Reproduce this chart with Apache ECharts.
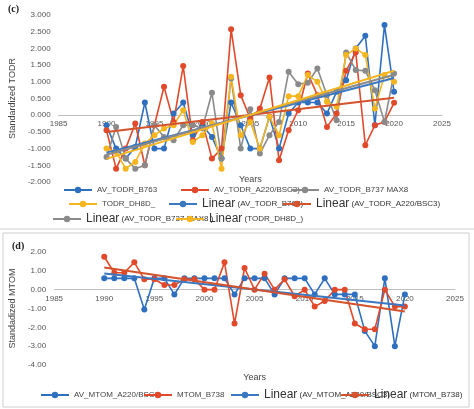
<!DOCTYPE html><html><head><meta charset="utf-8"><script src="https://cdn.jsdelivr.net/npm/echarts@6/dist/echarts.min.js"></script>
<style>html,body{margin:0;padding:0;background:#fff}#c{width:474px;height:409px}</style></head><body><div id="c"></div><script>
const years=[];for(let y=1990;y<=2020;y++)years.push(y);
const todrB763=[-0.3,-1.0,-1.3,-0.95,0.38,-1.0,-1.0,0.05,0.38,-0.6,-0.3,-0.65,-1.3,0.38,-0.3,-1.0,-1.0,-0.05,-1.0,0.05,0.38,0.38,0.38,0.05,0.7,1.05,2.0,2.38,-0.3,2.7,0.7];
const todrA220=[-0.45,-1.6,-1.0,-0.25,-1.5,-0.3,0.85,-0.2,1.47,-0.75,-0.2,-1.3,-1.0,2.57,0.6,-0.1,0.2,1.13,-1.35,-0.45,0.15,1.25,0.6,-0.35,0.05,1.33,1.88,-0.9,-0.3,-0.2,0.37];
const todrB737=[-1.25,-0.35,-1.3,-1.6,-1.5,-0.3,-0.65,-0.75,-0.3,-0.3,-0.4,0.67,-1.3,1.1,-1.0,0.18,-1.15,-0.6,-0.2,1.3,0.93,0.97,1.4,0.6,-0.15,1.88,1.35,1.33,0.75,-0.2,1.25];
const todrDH8D=[-1.0,-1.1,-1.6,-1.4,-0.85,-0.6,-0.4,-0.3,0.15,-0.8,-0.6,-0.25,-1.6,1.15,-0.6,-0.2,-1.0,-0.05,-0.6,0.57,0.57,1.2,1.0,0.4,0.25,1.8,2.0,1.8,0.2,1.2,1.0];
const mtomA220=[0.6,0.6,0.6,0.6,-1.05,0.6,0.6,-0.25,0.6,0.6,0.6,0.6,0.6,-0.25,0.6,0.6,0.6,-0.25,0.6,0.6,0.6,-0.25,0.6,-0.25,-0.25,-0.25,-2.2,-3.0,0.6,-3.0,-0.25];
const mtomB738=[1.75,0.9,0.9,1.45,0.55,0.55,0.25,0.25,0.55,0.55,0,0,1.45,-1.8,1.15,0,0.85,0,0.55,-0.35,0,-0.9,-0.6,0,0,-1.8,-2.1,-2.1,0,-0.9,-0.9];
const C={blue:'#2e6fc0',red:'#e2492a',gray:'#8a8a8a',yel:'#f5b51f',lblue:'#3b78c2',lred:'#d4522c'};
function trend(v){const n=v.length;let sx=0,sy=0,sxy=0,sxx=0;years.forEach((x,i)=>{sx+=x;sy+=v[i];sxy+=x*v[i];sxx+=x*x});const b=(n*sxy-sx*sy)/(n*sxx-sx*sx),a=(sy-b*sx)/n;return [[1990,a+b*1990],[2020,a+b*2020]];}
const pts=v=>years.map((y,i)=>[y,v[i]]);
function dser(name,v,col,gi){return {name,type:'line',data:pts(v),xAxisIndex:gi,yAxisIndex:gi,symbol:'circle',symbolSize:6,itemStyle:{color:col},lineStyle:{color:col,width:1.6},z:3};}
function tser(name,v,col,gi){return {name,type:'line',data:trend(v),xAxisIndex:gi,yAxisIndex:gi,symbol:'none',lineStyle:{color:col,width:2},itemStyle:{color:col},z:4};}
const rich={a:{fontSize:12,color:'#333',fontFamily:'Liberation Sans'},b:{fontSize:8,color:'#333'}};
const lfmt=n=>n.startsWith('Linear')?'{a|Linear} {b|'+n.slice(7)+'}':n;
function leg(name,top,left){return {data:[name],top,left,itemWidth:28,itemHeight:8,textStyle:{fontSize:8,color:'#444',rich},formatter:lfmt,padding:0};}
const xa=(gi,m,g)=>({type:'value',gridIndex:gi,min:1985,max:2025,interval:5,axisLine:{onZero:true,lineStyle:{color:'#bfbfbf'}},axisTick:{show:false},splitLine:{show:false},axisLabel:{fontSize:8,color:'#555',margin:m,formatter:v=>String(v)},name:'Years',nameLocation:'middle',nameGap:g,nameTextStyle:{fontSize:9,color:'#444'}});
const opt={animation:false,
graphic:[{type:'text',left:8,top:4,style:{text:'(c)',font:'bold 10px Liberation Serif',fill:'#222'}},
{type:'text',left:12,top:241,style:{text:'(d)',font:'bold 10px Liberation Serif',fill:'#222'}},
{type:'rect',shape:{x:3,y:233,width:466,height:174},style:{fill:'none',stroke:'#d0d0d0',lineWidth:1}},
{type:'line',shape:{x1:0,y1:229,x2:474,y2:229},style:{stroke:'#d0d0d0',lineWidth:1}}],
grid:[{left:46,right:32,top:15,height:167},{left:53,right:19,top:252,height:113}],
xAxis:[xa(0,-62,-7),xa(1,-70,8)],
yAxis:[{type:'value',gridIndex:0,min:-2,max:3,interval:0.5,axisLine:{show:false},axisTick:{show:false},splitLine:{show:false},axisLabel:{fontSize:8,color:'#555',formatter:v=>v.toFixed(3)},name:'Standardized TODR',nameLocation:'middle',nameGap:34,nameTextStyle:{fontSize:9,color:'#444'}},
{type:'value',gridIndex:1,min:-4,max:2,interval:1,axisLine:{show:false},axisTick:{show:false},splitLine:{show:false},axisLabel:{fontSize:8,color:'#555',formatter:v=>v.toFixed(2)},name:'Standadized MTOM',nameLocation:'middle',nameGap:28,nameTextStyle:{fontSize:9,color:'#444'}}],
legend:[leg('AV_TODR_B763',186,63),leg('AV_TODR_A220/BSC3)',186,180),leg('AV_TODR_B737 MAX8',186,290),
leg('TODR_DH8D_',200,68),leg('Linear (AV_TODR_B763)',198,168),leg('Linear (AV_TODR_A220/BSC3)',198,282),
leg('Linear (AV_TODR_B737 MAX8 )',213,52),leg('Linear (TODR_DH8D_)',213,175),
leg('AV_MTOM_A220/BSC3',391,40),leg('MTOM_B738',391,143),leg('Linear (AV_MTOM_A220/BSC3)',389,230),leg('Linear (MTOM_B738)',389,340)],
series:[dser('AV_TODR_B763',todrB763,C.blue,0),dser('AV_TODR_A220/BSC3)',todrA220,C.red,0),dser('AV_TODR_B737 MAX8',todrB737,C.gray,0),dser('TODR_DH8D_',todrDH8D,C.yel,0),
tser('Linear (AV_TODR_B763)',todrB763,C.lblue,0),tser('Linear (AV_TODR_A220/BSC3)',todrA220,C.lred,0),tser('Linear (AV_TODR_B737 MAX8 )',todrB737,C.gray,0),tser('Linear (TODR_DH8D_)',todrDH8D,C.yel,0),
dser('AV_MTOM_A220/BSC3',mtomA220,C.blue,1),dser('MTOM_B738',mtomB738,C.red,1),tser('Linear (AV_MTOM_A220/BSC3)',mtomA220,C.lblue,1),tser('Linear (MTOM_B738)',mtomB738,C.lred,1)]};
echarts.init(document.getElementById('c')).setOption(opt);
</script></body></html>
